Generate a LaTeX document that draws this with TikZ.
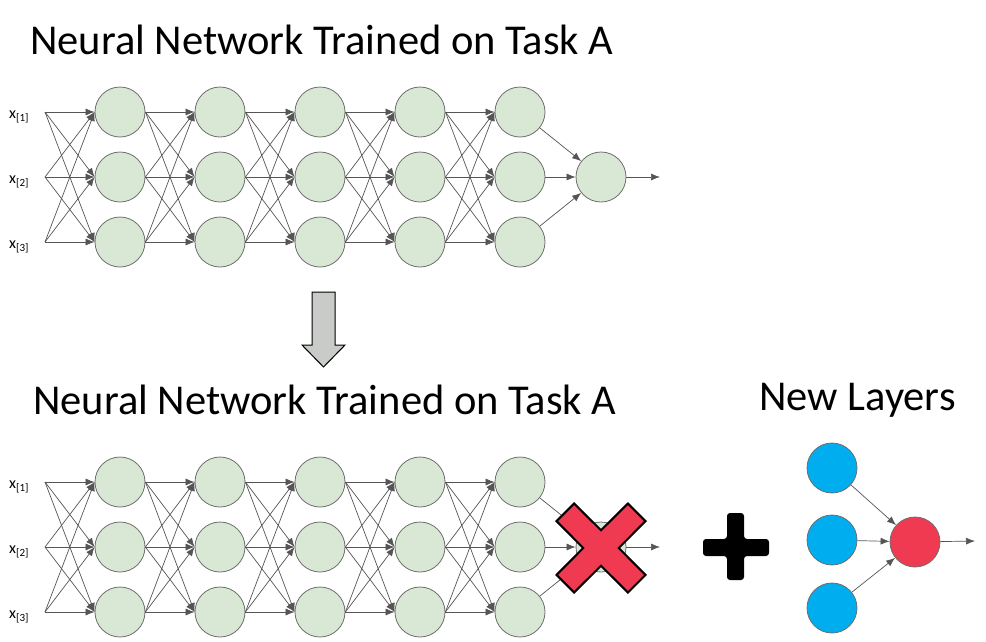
\documentclass[tikz,border=0pt]{standalone}
\usepackage{fontspec}
\setmainfont{Carlito}
\usetikzlibrary{arrows.meta}
\definecolor{ngreen}{HTML}{D9E8D4}
\definecolor{nline}{HTML}{6E6E6E}
\definecolor{eline}{HTML}{555555}
\definecolor{nblue}{HTML}{00AEEF}
\definecolor{nred}{HTML}{F03A52}
\definecolor{agray}{HTML}{C8CBC8}
\begin{document}
\begin{tikzpicture}[x=1pt,y=-1pt,
  neuron/.style={circle,draw=nline,line width=0.8pt,fill=ngreen,minimum size=50pt,inner sep=0pt},
  bneuron/.style={neuron,fill=nblue},
  rneuron/.style={neuron,fill=nred},
  conn/.style={draw=eline,line width=0.7pt,-{Latex[length=9pt,width=7pt]}},
  title/.style={font=\fontsize{42.5}{42.5}\selectfont,inner sep=0pt},
  inlabel/.style={font=\fontsize{16}{16}\selectfont,inner sep=0pt,anchor=base west}]
\useasboundingbox (0,0) rectangle (986,641);
\fill[white] (0,0) rectangle (986,641);

% titles
\node[title,anchor=base west] (title1) at (30,54) {Neural Network Trained on Task A};
\node[title,anchor=base west] (title2) at (33,414) {Neural Network Trained on Task A};
\node[title,anchor=base west] (title3) at (759,410) {New Layers};

% two networks
\foreach \n/\y in {t/112,b/482}{
  \foreach \c in {1,...,5}{
    \foreach \r in {1,2,3}{
      \node[neuron] (\n-\c-\r) at ({120+100*(\c-1)},{\y+65*(\r-1)}) {};
    }
  }
  \node[neuron] (\n-o) at (601,{\y+65}) {};
  \coordinate (\n-out) at (660,{\y+65});
  \foreach \r in {1,2,3}{
    \coordinate (\n-i-\r) at (45,{\y+65*(\r-1)});
    \node[inlabel] (\n-l-\r) at (9,{\y+65*(\r-1)+6}) {x\raisebox{-3.5pt}{\fontsize{11}{11}\selectfont[\r]}};
  }
  \foreach \r in {1,2,3}{
    \foreach \s in {1,2,3}{
      \draw[conn] (\n-i-\r) -- (\n-1-\s.west);
    }
  }
  \foreach \c [evaluate=\c as \d using int(\c+1)] in {1,...,4}{
    \foreach \r in {1,2,3}{
      \foreach \s in {1,2,3}{
        \draw[conn] (\n-\c-\r.east) -- (\n-\d-\s.west);
      }
    }
  }
  \foreach \r in {1,2,3}{
    \draw[conn] (\n-5-\r) -- (\n-o);
  }
  \draw[conn] (\n-o) -- (\n-out);
}

% down arrow
\draw[fill=agray,line width=1pt,line join=miter]
  (312,292) -- (335,292) -- (335,345) -- (345,345) -- (323.5,367) -- (302,345) -- (312,345) -- cycle;

% red cross
\draw[fill=nred,line width=2pt,line join=miter,shift={(601,548)}]
  (0,-17.7) -- (26.9,-44.5) -- (44.5,-26.9) -- (17.7,0) -- (44.5,26.9) -- (26.9,44.5)
  -- (0,17.7) -- (-26.9,44.5) -- (-44.5,26.9) -- (-17.7,0) -- (-44.5,-26.9) -- (-26.9,-44.5) -- cycle;

% plus
\fill[black,rounded corners=3pt]
  (727,513) -- (744,513) -- (744,539) -- (769,539) -- (769,556) -- (744,556) -- (744,580)
  -- (727,580) -- (727,556) -- (703,556) -- (703,539) -- (727,539) -- cycle;

% new layers
\node[bneuron] (n1) at (832,468) {};
\node[bneuron] (n2) at (832,540) {};
\node[bneuron] (n3) at (832,608) {};
\node[rneuron] (nr) at (915,542) {};
\coordinate (nout) at (975,541);
\foreach \k in {1,2,3}{\draw[conn] (n\k) -- (nr);}
\draw[conn] (nr) -- (nout);
\end{tikzpicture}
\end{document}
